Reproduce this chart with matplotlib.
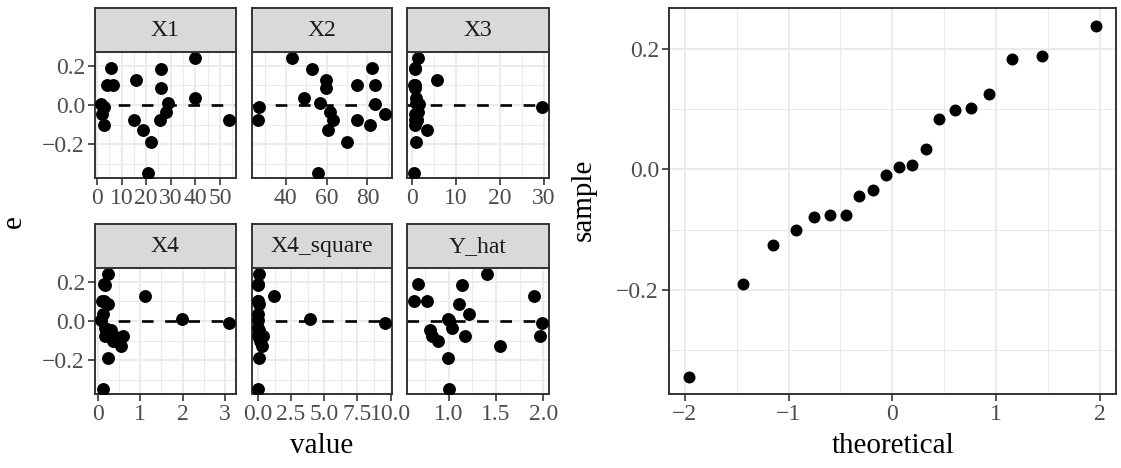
import numpy as np
import matplotlib.pyplot as plt
from matplotlib.ticker import FixedLocator

plt.rcParams['font.family'] = ['Liberation Serif', 'DejaVu Serif']

W, H = 1121, 468

e = [-0.344, -0.190, -0.126, -0.101, -0.079, -0.076, -0.075, -0.045, -0.034, -0.010,
     0.004, 0.007, 0.034, 0.084, 0.099, 0.102, 0.125, 0.183, 0.188, 0.238]
X1 = [20.9, 21.9, 18.8, 2.8, 53.8, 14.9, 25.8, 2.0, 28.1, 2.7,
      1.7, 28.8, 40.0, 25.9, 4.2, 6.4, 15.8, 25.9, 5.8, 40.0]
X2 = [56.0, 70.0, 60.9, 81.1, 26.4, 74.9, 63.2, 88.8, 61.9, 26.9,
      83.9, 56.7, 48.8, 59.9, 74.9, 83.9, 59.9, 52.9, 82.3, 42.8]
X3 = [0.5, 1.0, 3.5, 0.9, 1.3, 0.8, 1.2, 0.9, 1.5, 29.6,
      1.6, 1.0, 1.0, 0.8, 0.7, 0.6, 5.8, 0.7, 0.9, 1.5]
X4 = [0.12, 0.24, 0.55, 0.35, 0.59, 0.16, 0.39, 0.31, 0.16, 3.10,
      0.08, 1.98, 0.12, 0.24, 0.10, 0.14, 1.11, 0.16, 0.14, 0.24]
X4_square = [0.014, 0.058, 0.30, 0.12, 0.35, 0.026, 0.15, 0.096, 0.026, 9.61,
             0.006, 3.92, 0.014, 0.058, 0.010, 0.020, 1.23, 0.026, 0.020, 0.058]
Y_hat = [1.00, 0.99, 1.54, 0.89, 0.82, 1.17, 1.97, 0.80, 1.04, 1.99,
         1.00, 0.99, 1.21, 1.11, 0.77, 0.63, 1.90, 1.14, 0.68, 1.40]

theoretical = [-1.96, -1.44, -1.15, -0.93, -0.76, -0.60, -0.45, -0.32, -0.19, -0.06,
               0.06, 0.19, 0.32, 0.45, 0.60, 0.76, 0.93, 1.15, 1.44, 1.96]

facets = [
    ('X1', X1, [0, 10, 20, 30, 40, 50], ['0', '10', '20', '30', '40', '50'], [5, 15, 25, 35, 45, 55]),
    ('X2', X2, [40, 60, 80], ['40', '60', '80'], [30, 50, 70, 90]),
    ('X3', X3, [0, 10, 20, 30], ['0', '10', '20', '30'], [5, 15, 25]),
    ('X4', X4, [0, 1, 2, 3], ['0', '1', '2', '3'], [0.5, 1.5, 2.5]),
    ('X4_square', X4_square, [0, 2.5, 5, 7.5, 10], ['0.0', '2.5', '5.0', '7.5', '10.0'], [1.25, 3.75, 6.25, 8.75]),
    ('Y_hat', Y_hat, [1.0, 1.5, 2.0], ['1.0', '1.5', '2.0'], [0.75, 1.25, 1.75]),
]

ytick = [-0.2, 0.0, 0.2]
ytick_lab = ['\u22120.2', '0.0', '0.2']
yminor = [-0.3, -0.1, 0.1]

DARK = '#333333'
GRID = '#EBEBEB'
TICK_FS = 17
TITLE_FS = 21


def box(x0, y0, x1, y1):
    return [x0 / W, 1 - y1 / H, (x1 - x0) / W, (y1 - y0) / H]


def expand(vals):
    lo, hi = min(vals), max(vals)
    pad = (hi - lo) * 0.05
    return lo - pad, hi + pad


def style(ax, xt, xl, xm, yt, yl, ym, show_y=True):
    ax.set_facecolor('white')
    for sp in ax.spines.values():
        sp.set_color(DARK)
        sp.set_linewidth(1.4)
    ax.xaxis.set_major_locator(FixedLocator(xt))
    ax.xaxis.set_minor_locator(FixedLocator(xm))
    ax.set_xticklabels(xl)
    ax.yaxis.set_major_locator(FixedLocator(yt))
    ax.yaxis.set_minor_locator(FixedLocator(ym))
    ax.grid(which='major', color=GRID, lw=1.5)
    ax.grid(which='minor', color=GRID, lw=0.75)
    ax.set_axisbelow(True)
    ax.tick_params(which='major', length=5, width=1.2, color=DARK,
                   labelsize=TICK_FS, labelcolor='#4D4D4D', pad=2)
    ax.tick_params(which='minor', length=0)
    if show_y:
        ax.set_yticklabels(yl)
    else:
        ax.tick_params(axis='y', which='both', left=False, labelleft=False)


fig = plt.figure(figsize=(W / 100, H / 100), dpi=100)

cols = [(94.7, 235.7), (251.7, 391.7), (407.3, 548.7)]
rows = [(8.3, 52.3, 178.3), (224.3, 268.3, 394.3)]
ylim = expand(e)

for i, (name, xs, xt, xl, xm) in enumerate(facets):
    r, c = divmod(i, 3)
    x0, x1 = cols[c]
    s0, p0, p1 = rows[r]
    ax = fig.add_axes(box(x0, p0, x1, p1))
    ax.scatter(xs, e, s=86, color='black', linewidths=0, zorder=3)
    ax.axhline(0, color='black', lw=1.9, ls=(0, (4.4, 4.4)), zorder=2)
    ax.set_xlim(*expand(xs))
    ax.set_ylim(*ylim)
    style(ax, xt, xl, xm, ytick, ytick_lab, yminor, show_y=(c == 0))

    st = fig.add_axes(box(x0, s0, x1, p0))
    st.set_facecolor('#D9D9D9')
    st.set_xticks([])
    st.set_yticks([])
    for sp in st.spines.values():
        sp.set_color(DARK)
        sp.set_linewidth(1.4)
    st.text(0.5, 0.5, name, ha='center', va='center', fontsize=TICK_FS,
            color='#1A1A1A', transform=st.transAxes)

fig.text(14 / W, 1 - 222 / H, 'e', rotation=90, ha='center', va='center', fontsize=TITLE_FS)
fig.text(322 / W, 1 - 446 / H, 'value', ha='center', va='center', fontsize=TITLE_FS)

# normal Q-Q panel
qq = fig.add_axes(box(668.7, 8.3, 1116, 394.3))
qq.scatter(theoretical, np.sort(e), s=74, color='black', linewidths=0, zorder=3)
qq.set_xlim(*expand(theoretical))
qq.set_ylim(*ylim)
style(qq, [-2, -1, 0, 1, 2], ['\u22122', '\u22121', '0', '1', '2'], [-1.5, -0.5, 0.5, 1.5],
      ytick, ytick_lab, yminor)

fig.text(584 / W, 1 - 200 / H, 'sample', rotation=90, ha='center', va='center', fontsize=TITLE_FS)
fig.text(893 / W, 1 - 446 / H, 'theoretical', ha='center', va='center', fontsize=TITLE_FS)

fig.savefig('out.png', dpi=100)
